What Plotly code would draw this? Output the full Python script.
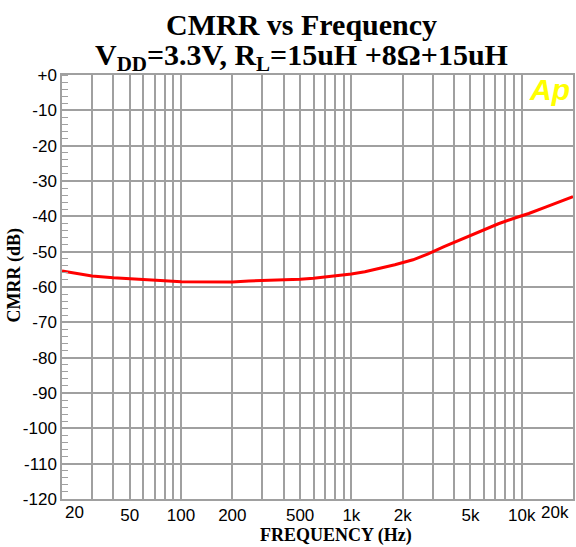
import plotly.graph_objects as go

freq_hz = [20, 25, 30, 40, 50, 63, 80, 100, 150, 200, 250, 300, 400, 500, 600, 700,
           800, 1000, 1200, 1450, 1800, 2300, 2800, 3500, 4400, 5700, 7300, 9200,
           11000, 13800, 16500, 20000]
cmrr_db = [-55.5, -56.2, -56.9, -57.4, -57.6, -58.0, -58.2, -58.5, -58.6, -58.6, -58.3,
           -58.2, -57.9, -57.8, -57.5, -57.2, -56.9, -56.3, -55.7, -54.8, -53.7, -52.3,
           -50.7, -48.6, -46.6, -44.3, -42.1, -40.4, -39.2, -37.4, -35.9, -34.4]

x_grid_vals = [20, 30, 40, 50, 60, 70, 80, 90, 100, 200, 300, 400, 500, 600, 700, 800, 900,
               1000, 2000, 3000, 4000, 5000, 6000, 7000, 8000, 9000, 10000]
x_grid_text = ["", "", "", "50", "", "", "", "", "100", "200", "", "", "500", "", "", "", "",
               "1k", "2k", "", "", "5k", "", "", "", "", "10k"]
x_edge_labels = ["20", "20k"]

y_tick_vals = [0, -10, -20, -30, -40, -50, -60, -70, -80, -90, -100, -110, -120]
y_tick_text = ["+0", "-10", "-20", "-30", "-40", "-50", "-60", "-70", "-80", "-90", "-100", "-110", "-120"]

GRID = "#a0a0a0"
TICKFONT = dict(family="Liberation Sans", size=17, color="black")
SERIF = "Liberation Serif"

fig = go.Figure()
fig.add_trace(go.Scatter(x=freq_hz, y=cmrr_db, mode="lines",
                         line=dict(color="#ff0000", width=3), showlegend=False))

fig.update_xaxes(type="log", range=[1.30103, 4.30103],
                 tickmode="array", tickvals=x_grid_vals, ticktext=x_grid_text,
                 showgrid=True, gridcolor=GRID, gridwidth=1.5,
                 ticks="", tickfont=TICKFONT,
                 showline=True, linecolor=GRID, linewidth=1.5, mirror=True,
                 zeroline=False)
fig.update_yaxes(range=[-120, 0], tickmode="array", tickvals=y_tick_vals, ticktext=y_tick_text,
                 showgrid=True, gridcolor=GRID, gridwidth=1.5,
                 ticks="", tickfont=TICKFONT,
                 minor=dict(dtick=2, ticks="inside", ticklen=6, tickcolor=GRID, tickwidth=1, showgrid=False),
                 showline=True, linecolor=GRID, linewidth=1.5, mirror=True,
                 zeroline=False)

annotations = [
    dict(x=0.0, y=0, xref="paper", yref="paper", text=x_edge_labels[0],
         showarrow=False, yanchor="top", xanchor="left", yshift=-2, xshift=1, font=TICKFONT),
    dict(x=1.0, y=0, xref="paper", yref="paper", text=x_edge_labels[1],
         showarrow=False, yanchor="top", xanchor="right", yshift=-2, xshift=-2, font=TICKFONT),
    dict(x=0.469, y=1.120, xref="paper", yref="paper",
         text="<b>CMRR vs Frequency</b>", showarrow=False,
         font=dict(family=SERIF, size=30, color="black"),
         xanchor="center", yanchor="middle"),
    dict(x=0.469, y=1.043, xref="paper", yref="paper",
         text="<b>V<sub>DD</sub>=3.3V, R<sub>L</sub>=15uH +8\u03a9+15uH</b>",
         showarrow=False, font=dict(family=SERIF, size=30, color="black"),
         xanchor="center", yanchor="middle"),
    dict(x=0.537, y=-0.086, xref="paper", yref="paper",
         text="<b>FREQUENCY (Hz)</b>", showarrow=False,
         font=dict(family=SERIF, size=18, color="black"),
         xanchor="center", yanchor="middle"),
    dict(x=-0.0934, y=0.528, xref="paper", yref="paper",
         text="<b>CMRR (dB)</b>", showarrow=False, textangle=-90,
         font=dict(family=SERIF, size=18, color="black"),
         xanchor="center", yanchor="middle"),
    dict(x=0.998, y=0.965, xref="paper", yref="paper",
         text="<b><i>Ap</i></b>", showarrow=False,
         font=dict(family="Liberation Sans", size=30, color="#ffff00"),
         xanchor="right", yanchor="middle"),
]

fig.update_layout(width=576, height=547,
                  margin=dict(l=62, r=1, t=75, b=48),
                  plot_bgcolor="white", paper_bgcolor="white",
                  annotations=annotations)

fig.write_html("out.html", config={"displayModeBar": False},
               post_script="document.body.style.margin='0';document.body.style.padding='0';"
                           "document.body.style.overflow='hidden';")
